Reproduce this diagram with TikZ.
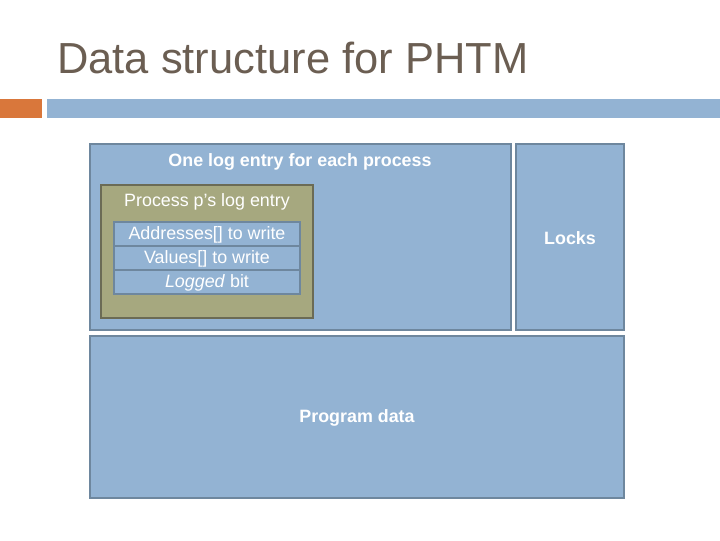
\documentclass[tikz,border=0pt]{standalone}
\usepackage{fontspec}
\setmainfont{Liberation Sans}
\definecolor{blu}{HTML}{93B3D3}
\definecolor{bord}{HTML}{6E879E}
\definecolor{oli}{HTML}{A6A87F}
\definecolor{olib}{HTML}{6B6B55}
\definecolor{ttl}{HTML}{6B5E52}
\definecolor{org}{HTML}{D9773B}
\begin{document}
\begin{tikzpicture}[x=0.75pt,y=-0.75pt,
  box/.style={fill=blu,draw=bord,line width=1.8pt},
  wt/.style={text=white,font=\fontsize{13.4}{15}\selectfont},
  wb/.style={text=white,font=\bfseries\fontsize{13.4}{15}\selectfont}]
\useasboundingbox (0,0) rectangle (720,540);
\node[anchor=base west,text=ttl,font=\fontsize{32.6}{36}\selectfont,inner sep=0] (title) at (57,73) {Data structure for PHTM};
\fill[org] (0,99) rectangle (42,118);
\fill[blu] (47,99) rectangle (720,118);
\draw[box] (90,144) rectangle (511,330);
\draw[box] (516,144) rectangle (624,330);
\draw[box] (90,336) rectangle (624,498);
\draw[fill=oli,draw=olib,line width=1.8pt] (101,185) rectangle (313,318);
\foreach \y in {222,246,270} \draw[fill=blu,draw=bord,line width=1.8pt] (114,\y) rectangle (300,\y+24);
\node[wb] (one) at (300,162) {One log entry for each process};
\node[wt] (pp) at (207,202) {Process p’s log entry};
\node[wt] (a) at (207,235) {Addresses[] to write};
\node[wt] (v) at (207,259) {Values[] to write};
\node[wt] (l) at (207,283) {\textit{Logged} bit};
\node[wb] (locks) at (570,238) {Locks};
\node[wb] (pd) at (357,418) {Program data};
\end{tikzpicture}
\end{document}
